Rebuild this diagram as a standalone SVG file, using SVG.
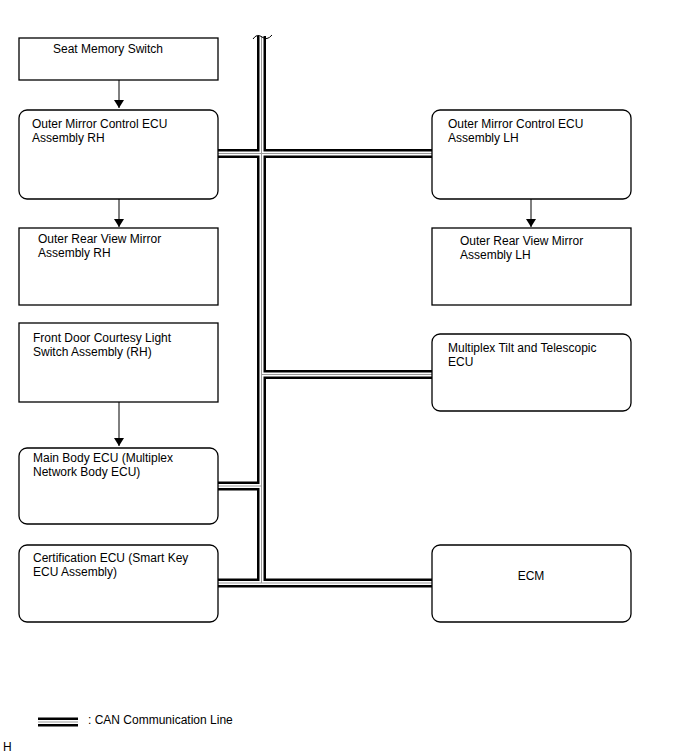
<svg xmlns="http://www.w3.org/2000/svg" width="688" height="755" viewBox="0 0 688 755">
<style>
.box{fill:#fff;stroke:#000;stroke-width:1.3}
.t{font-family:"Liberation Sans",Arial,sans-serif;font-size:12px;fill:#000}
.arr{stroke:#000;stroke-width:1;fill:none}
.c1{stroke:#000;stroke-width:9;fill:none}
.c2{stroke:#fff;stroke-width:4;fill:none}
.c3{stroke:#999;stroke-width:1;fill:none}
</style>
<defs>
<marker id="ah" markerWidth="8" markerHeight="10" refX="8" refY="5" orient="auto" markerUnits="userSpaceOnUse">
<path d="M0,0 L8,5 L0,10 Z" fill="#000"/>
</marker>
<path id="bus" d="M261.5,36 V583 M218,153.5 H432 M261.5,374.5 H432 M218,486 H261.5 M218,583 H432"/>
</defs>
<g id="connectors">
<use href="#bus" class="c1"/>
<use href="#bus" class="c2"/>
<use href="#bus" class="c3"/>
<path d="M253,39 q4,-6 9,-2 q5,4 10,-2" fill="none" stroke="#000" stroke-width="1"/>
<line class="arr" x1="119" y1="80" x2="119" y2="108" marker-end="url(#ah)"/>
<line class="arr" x1="119" y1="199" x2="119" y2="227" marker-end="url(#ah)"/>
<line class="arr" x1="119" y1="402" x2="119" y2="446" marker-end="url(#ah)"/>
<line class="arr" x1="531" y1="199" x2="531" y2="227" marker-end="url(#ah)"/>
</g>
<g id="seat-memory-switch">
<rect class="box" x="19" y="38" width="199" height="42"/>
<text class="t" x="53" y="53">Seat Memory Switch</text>
</g>
<g id="outer-mirror-ecu-rh">
<rect class="box" x="19" y="110" width="199" height="89" rx="8"/>
<text class="t" x="32" y="128">Outer Mirror Control ECU</text>
<text class="t" x="32" y="142">Assembly RH</text>
</g>
<g id="outer-rear-view-mirror-rh">
<rect class="box" x="19" y="228" width="199" height="77"/>
<text class="t" x="38" y="243">Outer Rear View Mirror</text>
<text class="t" x="38" y="257">Assembly RH</text>
</g>
<g id="front-door-courtesy">
<rect class="box" x="19" y="323" width="199" height="79"/>
<text class="t" x="33" y="342">Front Door Courtesy Light</text>
<text class="t" x="33" y="356">Switch Assembly (RH)</text>
</g>
<g id="main-body-ecu">
<rect class="box" x="19" y="448" width="199" height="76" rx="8"/>
<text class="t" x="33" y="462">Main Body ECU (Multiplex</text>
<text class="t" x="33" y="476">Network Body ECU)</text>
</g>
<g id="certification-ecu">
<rect class="box" x="19" y="545" width="199" height="77" rx="8"/>
<text class="t" x="33" y="562">Certification ECU (Smart Key</text>
<text class="t" x="33" y="576">ECU Assembly)</text>
</g>
<g id="outer-mirror-ecu-lh">
<rect class="box" x="432" y="110" width="199" height="89" rx="8"/>
<text class="t" x="448" y="128">Outer Mirror Control ECU</text>
<text class="t" x="448" y="142">Assembly LH</text>
</g>
<g id="outer-rear-view-mirror-lh">
<rect class="box" x="432" y="228" width="199" height="77"/>
<text class="t" x="460" y="245">Outer Rear View Mirror</text>
<text class="t" x="460" y="259">Assembly LH</text>
</g>
<g id="multiplex-tilt">
<rect class="box" x="432" y="334" width="199" height="77" rx="8"/>
<text class="t" x="448" y="352">Multiplex Tilt and Telescopic</text>
<text class="t" x="448" y="366">ECU</text>
</g>
<g id="ecm">
<rect class="box" x="432" y="545" width="199" height="77" rx="8"/>
<text class="t" x="531" y="580" text-anchor="middle">ECM</text>
</g>
<g id="legend">
<path d="M38,722 H78" class="c1"/>
<path d="M38,722 H78" class="c2"/>
<path d="M38,722 H78" class="c3"/>
<text class="t" x="88" y="724">: CAN Communication Line</text>
<text class="t" x="3" y="751">H</text>
</g>
</svg>
